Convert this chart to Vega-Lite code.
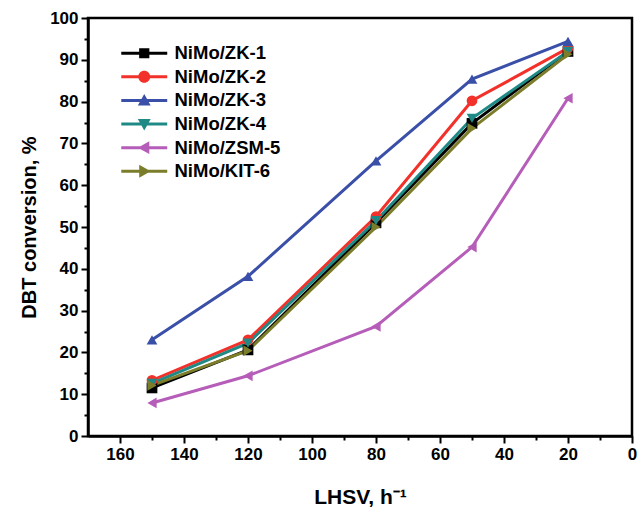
{
  "$schema": "https://vega.github.io/schema/vega-lite/v6.json",
  "autosize": {"type": "none"},
  "width": 544,
  "height": 418,
  "padding": {"left": 88, "top": 18, "right": 7, "bottom": 83},
  "background": "white",
  "config": {
    "view": {"stroke": "black", "strokeWidth": 2.5},
    "font": "Liberation Sans",
    "axis": {
      "grid": false,
      "domainColor": "black",
      "domainWidth": 2.5,
      "tickColor": "black",
      "tickWidth": 2,
      "labelFont": "Liberation Sans",
      "labelFontWeight": "bold",
      "labelFontSize": 17,
      "labelColor": "black",
      "titleFont": "Liberation Sans",
      "titleFontWeight": "bold",
      "titleFontSize": 20,
      "titleColor": "black"
    }
  },
  "data": {
    "values": [
      {"lhsv": 150, "conv": 11.5, "catalyst": "NiMo/ZK-1"},
      {"lhsv": 120, "conv": 20.6, "catalyst": "NiMo/ZK-1"},
      {"lhsv": 80, "conv": 51.0, "catalyst": "NiMo/ZK-1"},
      {"lhsv": 50, "conv": 74.8, "catalyst": "NiMo/ZK-1"},
      {"lhsv": 20, "conv": 92.0, "catalyst": "NiMo/ZK-1"},
      {"lhsv": 150, "conv": 13.3, "catalyst": "NiMo/ZK-2"},
      {"lhsv": 120, "conv": 23.0, "catalyst": "NiMo/ZK-2"},
      {"lhsv": 80, "conv": 52.5, "catalyst": "NiMo/ZK-2"},
      {"lhsv": 50, "conv": 80.2, "catalyst": "NiMo/ZK-2"},
      {"lhsv": 20, "conv": 92.8, "catalyst": "NiMo/ZK-2"},
      {"lhsv": 150, "conv": 23.0, "catalyst": "NiMo/ZK-3"},
      {"lhsv": 120, "conv": 38.2, "catalyst": "NiMo/ZK-3"},
      {"lhsv": 80, "conv": 65.8, "catalyst": "NiMo/ZK-3"},
      {"lhsv": 50, "conv": 85.4, "catalyst": "NiMo/ZK-3"},
      {"lhsv": 20, "conv": 94.4, "catalyst": "NiMo/ZK-3"},
      {"lhsv": 150, "conv": 12.6, "catalyst": "NiMo/ZK-4"},
      {"lhsv": 120, "conv": 22.2, "catalyst": "NiMo/ZK-4"},
      {"lhsv": 80, "conv": 51.5, "catalyst": "NiMo/ZK-4"},
      {"lhsv": 50, "conv": 76.0, "catalyst": "NiMo/ZK-4"},
      {"lhsv": 20, "conv": 92.0, "catalyst": "NiMo/ZK-4"},
      {"lhsv": 150, "conv": 7.9, "catalyst": "NiMo/ZSM-5"},
      {"lhsv": 120, "conv": 14.4, "catalyst": "NiMo/ZSM-5"},
      {"lhsv": 80, "conv": 26.2, "catalyst": "NiMo/ZSM-5"},
      {"lhsv": 50, "conv": 45.2, "catalyst": "NiMo/ZSM-5"},
      {"lhsv": 20, "conv": 80.8, "catalyst": "NiMo/ZSM-5"},
      {"lhsv": 150, "conv": 12.1, "catalyst": "NiMo/KIT-6"},
      {"lhsv": 120, "conv": 20.4, "catalyst": "NiMo/KIT-6"},
      {"lhsv": 80, "conv": 50.0, "catalyst": "NiMo/KIT-6"},
      {"lhsv": 50, "conv": 73.6, "catalyst": "NiMo/KIT-6"},
      {"lhsv": 20, "conv": 91.3, "catalyst": "NiMo/KIT-6"}
    ]
  },
  "encoding": {
    "x": {
      "field": "lhsv",
      "type": "quantitative",
      "scale": {"domain": [0, 170], "reverse": true, "nice": false},
      "axis": {
        "title": "LHSV, h⁻¹",
        "titleFontSize": 21,
        "titlePadding": 24,
        "values": [0, 10, 20, 30, 40, 50, 60, 70, 80, 90, 100, 110, 120, 130, 140, 150, 160],
        "labelExpr": "datum.value % 20 === 0 ? datum.label : ''",
        "tickSize": {"condition": {"test": "datum.value % 20 === 0", "value": 7}, "value": 4},
        "labelPadding": 3,
        "labelFlush": false,
        "labelOverlap": false
      }
    },
    "y": {
      "field": "conv",
      "type": "quantitative",
      "scale": {"domain": [0, 100], "nice": false},
      "axis": {
        "title": "DBT conversion, %",
        "titlePadding": 10,
        "values": [0, 5, 10, 15, 20, 25, 30, 35, 40, 45, 50, 55, 60, 65, 70, 75, 80, 85, 90, 95, 100],
        "labelExpr": "datum.value % 10 === 0 ? datum.label : ''",
        "tickSize": {"condition": {"test": "datum.value % 10 === 0", "value": 7}, "value": 4},
        "labelPadding": 3,
        "labelOverlap": false
      }
    }
  },
  "layer": [
    {
      "mark": {"type": "line", "strokeWidth": 3},
      "encoding": {
        "color": {
          "field": "catalyst",
          "type": "nominal",
          "scale": {
            "domain": ["NiMo/ZK-1", "NiMo/ZK-2", "NiMo/ZK-3", "NiMo/ZK-4", "NiMo/ZSM-5", "NiMo/KIT-6"],
            "range": ["#000000", "#f2312a", "#3a4fa8", "#1f8a85", "#b55db8", "#7b7d2a"]
          },
          "legend": null
        },
        "order": {"field": "lhsv", "type": "quantitative"}
      }
    },
    {
      "mark": {"type": "point", "filled": true, "opacity": 1, "size": 115},
      "encoding": {
        "color": {
          "field": "catalyst",
          "type": "nominal",
          "scale": {
            "domain": ["NiMo/ZK-1", "NiMo/ZK-2", "NiMo/ZK-3", "NiMo/ZK-4", "NiMo/ZSM-5", "NiMo/KIT-6"],
            "range": ["#000000", "#f2312a", "#3a4fa8", "#1f8a85", "#b55db8", "#7b7d2a"]
          },
          "legend": null
        },
        "shape": {
          "field": "catalyst",
          "type": "nominal",
          "scale": {
            "domain": ["NiMo/ZK-1", "NiMo/ZK-2", "NiMo/ZK-3", "NiMo/ZK-4", "NiMo/ZSM-5", "NiMo/KIT-6"],
            "range": ["square", "circle", "triangle-up", "triangle-down", "triangle-left", "triangle-right"]
          },
          "legend": null
        }
      }
    },
    {
      "transform": [{"filter": "datum.lhsv < 0"}],
      "mark": {"type": "point", "filled": true, "opacity": 1, "size": 144},
      "encoding": {
        "color": {
          "field": "catalyst",
          "type": "nominal",
          "scale": {
            "domain": ["NiMo/ZK-1", "NiMo/ZK-2", "NiMo/ZK-3", "NiMo/ZK-4", "NiMo/ZSM-5", "NiMo/KIT-6"],
            "range": ["#000000", "#f2312a", "#3a4fa8", "#1f8a85", "#b55db8", "#7b7d2a"]
          },
          "legend": {
            "title": null,
            "orient": "none",
            "legendX": 47,
            "legendY": 26,
            "labelFont": "Liberation Sans",
            "labelFontWeight": "bold",
            "labelFontSize": 18.5,
            "labelColor": "black",
            "symbolSize": 144,
            "symbolStrokeWidth": 0,
            "rowPadding": 4.6,
            "labelOffset": 21,
            "labelLimit": 300
          }
        },
        "shape": {
          "field": "catalyst",
          "type": "nominal",
          "scale": {
            "domain": ["NiMo/ZK-1", "NiMo/ZK-2", "NiMo/ZK-3", "NiMo/ZK-4", "NiMo/ZSM-5", "NiMo/KIT-6"],
            "range": [
              "M-3.83,-0.25H3.83V0.25H-3.83Z M-0.85,-0.85H0.85V0.85H-0.85Z",
              "M-3.83,-0.25H3.83V0.25H-3.83Z M1,0A1,1 0 1,1 -1,0A1,1 0 1,1 1,0Z",
              "M-3.83,-0.25H3.83V0.25H-3.83Z M0,-1.07L1.07,0.84L-1.07,0.84Z",
              "M-3.83,-0.25H3.83V0.25H-3.83Z M0,1.07L-1.07,-0.84L1.07,-0.84Z",
              "M-3.83,-0.25H3.83V0.25H-3.83Z M-1.07,0L0.84,-1.07L0.84,1.07Z",
              "M-3.83,-0.25H3.83V0.25H-3.83Z M1.07,0L-0.84,1.07L-0.84,-1.07Z"
            ]
          },
          "legend": {
            "title": null,
            "orient": "none",
            "legendX": 47,
            "legendY": 26,
            "labelFont": "Liberation Sans",
            "labelFontWeight": "bold",
            "labelFontSize": 18.5,
            "labelColor": "black",
            "symbolSize": 144,
            "symbolStrokeWidth": 0,
            "rowPadding": 4.6,
            "labelOffset": 21,
            "labelLimit": 300
          }
        }
      }
    }
  ],
  "resolve": {
    "scale": {"color": "independent", "shape": "independent"},
    "legend": {"color": "independent", "shape": "independent"}
  }
}
